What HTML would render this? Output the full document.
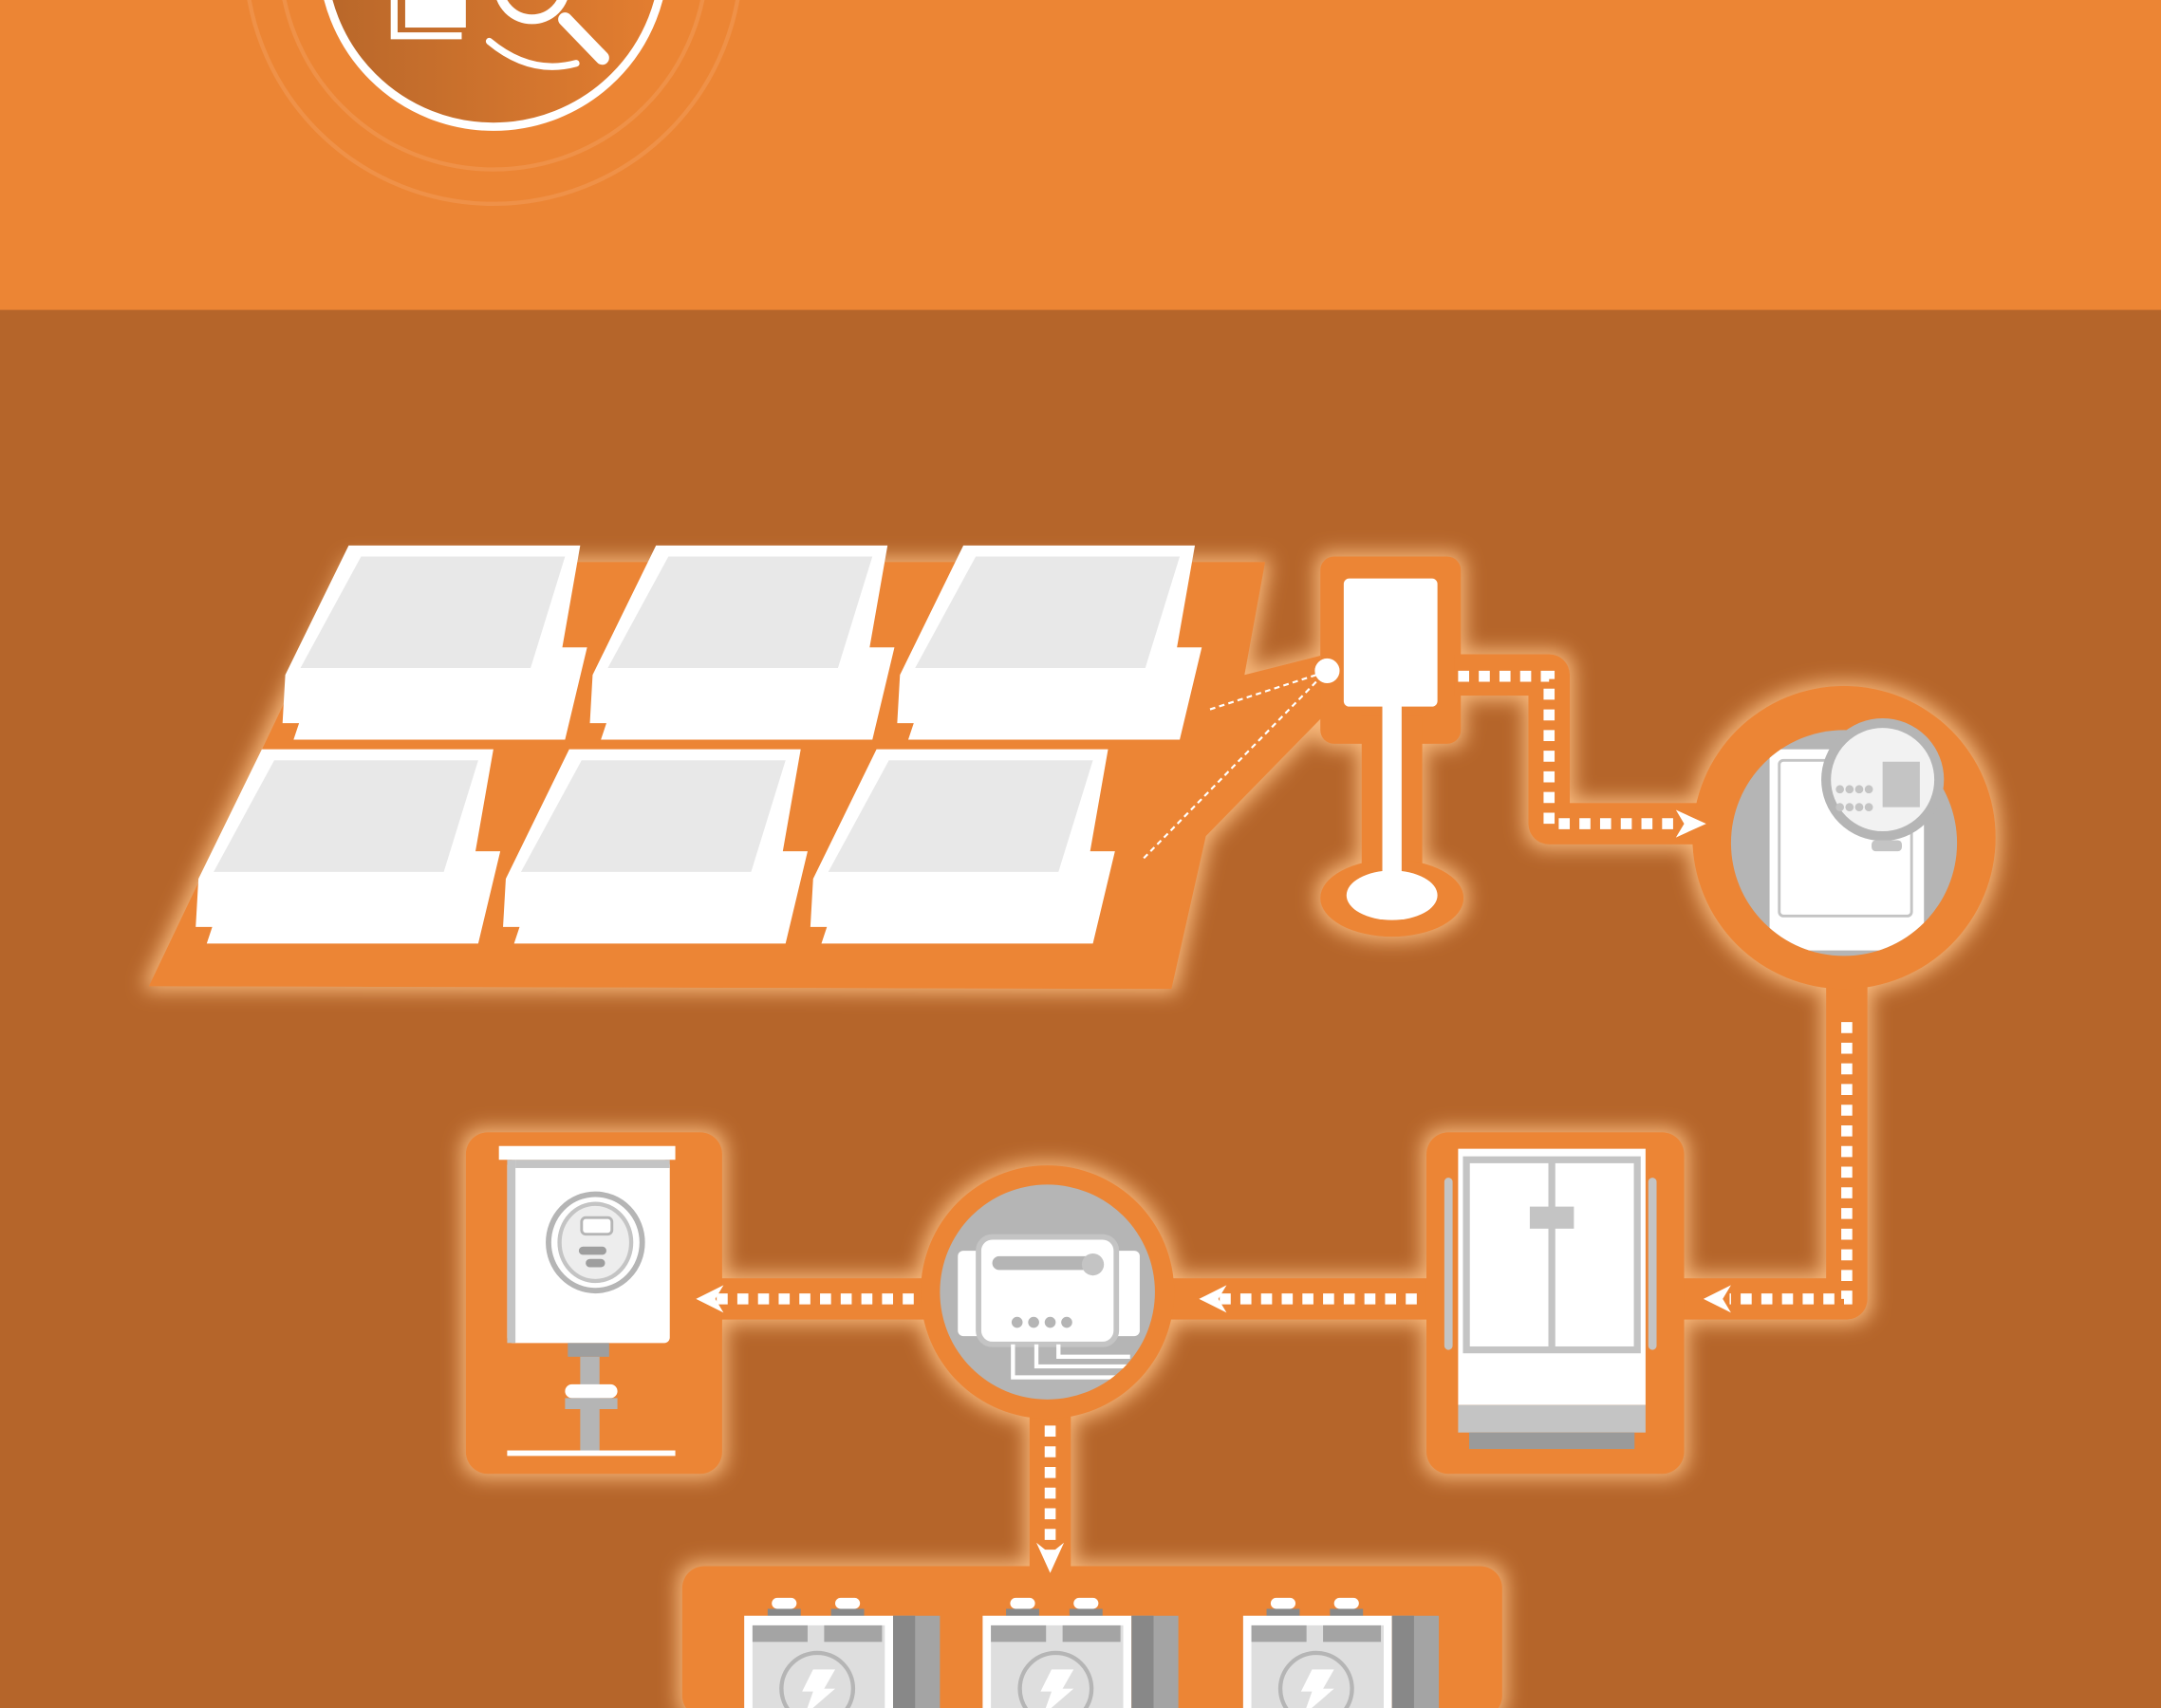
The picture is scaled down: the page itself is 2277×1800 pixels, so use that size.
<!DOCTYPE html>
<html><head><meta charset="utf-8"><style>html,body{margin:0;padding:0;background:#B5652A}svg{display:block}</style></head>
<body>
<svg width="2277" height="1800" viewBox="0 0 1568 1240" preserveAspectRatio="none" xmlns="http://www.w3.org/2000/svg">
<defs>
<filter id="g" x="-20%" y="-20%" width="140%" height="140%">
<feMorphology in="SourceAlpha" operator="dilate" radius="3" result="d"/>
<feGaussianBlur in="d" stdDeviation="7" result="b"/>
<feFlood flood-color="#F7B77A"/>
<feComposite in2="b" operator="in" result="c"/>
<feMerge><feMergeNode in="c"/><feMergeNode in="SourceGraphic"/></feMerge>
</filter>
<linearGradient id="ig" x1="0" x2="1"><stop offset="0" stop-color="#B8672A"/><stop offset="1" stop-color="#E47E30"/></linearGradient>
<clipPath id="c1"><ellipse cx="1338" cy="612" rx="82" ry="82"/></clipPath>
<clipPath id="c2"><circle cx="760" cy="938" r="78"/></clipPath>
</defs>
<rect width="1568" height="1240" fill="#B5652A"/>
<rect width="1568" height="225" fill="#EC8534"/>
<circle cx="358" cy="-32" r="180" fill="none" stroke="#EF9148" stroke-width="3"/>
<circle cx="358" cy="-32" r="155" fill="none" stroke="#EF9148" stroke-width="3"/>
<circle cx="358" cy="-32" r="124" fill="url(#ig)" stroke="#fff" stroke-width="6"/>
<path d="M286 0 V26 H335" fill="none" stroke="#fff" stroke-width="5"/>
<rect x="294" y="0" width="44" height="20" fill="#fff"/>
<circle cx="386" cy="-10" r="24" fill="none" stroke="#fff" stroke-width="7"/>
<line x1="410" y1="14" x2="437" y2="42" stroke="#fff" stroke-width="10" stroke-linecap="round"/>
<path d="M355 30 Q385 55 418 46" fill="none" stroke="#fff" stroke-width="5" stroke-linecap="round"/>

<g filter="url(#g)" fill="#EC8534">
<polygon points="255,408 918,408 903,490 958,476 960,520 875,607 850,718 108,716"/>
<rect x="958" y="404" width="102" height="136" rx="10"/>
<rect x="988" y="520" width="44" height="115"/>
<ellipse cx="1010" cy="652" rx="52" ry="28"/>
<g fill="none" stroke="#EC8534" stroke-width="30" stroke-linejoin="round">
<path d="M1055 490 H1124 V598 H1240"/>
<path d="M1340 700 V943 H1215"/>
<path d="M1040 943 H840"/>
<path d="M680 943 H515"/>
<path d="M762 1020 V1145"/>
</g>
<rect x="1035" y="822" width="187" height="248" rx="16"/>
<rect x="338" y="822" width="186" height="248" rx="16"/>
<rect x="495" y="1137" width="595" height="110" rx="16"/>
<circle cx="1338" cy="608" r="110"/>
<circle cx="760" cy="938" r="92"/>
</g>

<g id="p">
<polygon points="253,396 421,396 408,470 426,470 410,537 213,537 217,525 205,525 207,490" fill="#fff"/>
<polygon points="262,404 410,404 385,485 218,485" fill="#E8E8E8"/>
</g>
<use href="#p" x="223"/><use href="#p" x="446"/>
<use href="#p" x="-63" y="148"/><use href="#p" x="160" y="148"/><use href="#p" x="383" y="148"/>

<rect x="975" y="420" width="68" height="93" rx="4" fill="#fff"/>
<rect x="1003" y="510" width="14" height="125" fill="#fff"/>
<ellipse cx="1010" cy="650" rx="33" ry="18" fill="#fff"/>
<circle cx="963" cy="487" r="9" fill="#fff"/>
<path d="M955 490 L878 515 M955 495 L828 625" stroke="#fff" stroke-width="1.5" stroke-dasharray="4 3" fill="none"/>

<g fill="none" stroke="#fff" stroke-width="8" stroke-dasharray="8 7">
<path d="M1058 491 H1124 V598 H1220"/>
<path d="M1340 742 V943 H1255"/>
<path d="M1028 943 H880"/>
<path d="M663 943 H520"/>
<path d="M762 1035 V1128"/>
</g>
<g fill="#fff">
<polygon points="1216,588 1238,598 1216,608 1222,598"/>
<polygon points="1256,933 1236,943 1256,953 1250,943"/>
<polygon points="890,933 870,943 890,953 884,943"/>
<polygon points="525,933 505,943 525,953 519,943"/>
<polygon points="752,1120 762,1142 772,1120 762,1128"/>
</g>

<circle cx="1338" cy="612" r="82" fill="#B5B5B5"/>
<g clip-path="url(#c1)">
<rect x="1284" y="544" width="112" height="146" fill="#fff"/>
<rect x="1291" y="552" width="96" height="113" rx="3" fill="none" stroke="#C4C4C4" stroke-width="2"/>
</g>
<circle cx="1366" cy="566" r="41" fill="#F2F2F2" stroke="#B5B5B5" stroke-width="7"/>
<rect x="1366" y="553" width="27" height="33" fill="#C4C4C4"/>
<g fill="#C4C4C4"><circle cx="1335" cy="573" r="3"/><circle cx="1342" cy="573" r="3"/><circle cx="1349" cy="573" r="3"/><circle cx="1356" cy="573" r="3"/><circle cx="1335" cy="586" r="3"/><circle cx="1342" cy="586" r="3"/><circle cx="1349" cy="586" r="3"/><circle cx="1356" cy="586" r="3"/></g>
<rect x="1358" y="610" width="22" height="8" rx="3" fill="#C4C4C4"/>

<rect x="1058" y="834" width="136" height="186" fill="#fff"/>
<rect x="1064" y="842" width="124" height="138" fill="none" stroke="#C4C4C4" stroke-width="5"/>
<line x1="1126" y1="842" x2="1126" y2="980" stroke="#C4C4C4" stroke-width="5"/>
<rect x="1110" y="876" width="32" height="16" fill="#C4C4C4"/>
<rect x="1058" y="1020" width="136" height="20" fill="#C4C4C4"/>
<rect x="1066" y="1040" width="120" height="12" fill="#9A9A9A"/>
<rect x="1048" y="855" width="6" height="125" rx="3" fill="#C4C4C4"/>
<rect x="1196" y="855" width="6" height="125" rx="3" fill="#C4C4C4"/>

<circle cx="760" cy="938" r="78" fill="#B5B5B5"/>
<g clip-path="url(#c2)">
<rect x="695" y="908" width="132" height="62" rx="4" fill="#fff"/>
<rect x="710" y="898" width="100" height="78" rx="10" fill="#fff" stroke="#C4C4C4" stroke-width="4"/>
<rect x="720" y="912" width="80" height="10" rx="5" fill="#B5B5B5"/>
<circle cx="793" cy="918" r="8" fill="#C4C4C4"/>
<g fill="#B5B5B5"><circle cx="738" cy="960" r="4"/><circle cx="750" cy="960" r="4"/><circle cx="762" cy="960" r="4"/><circle cx="774" cy="960" r="4"/></g>
<path d="M735 976 V1000 H820 M752 976 V992 H820 M768 976 V985 H820" fill="none" stroke="#fff" stroke-width="3"/>
</g>

<rect x="362" y="832" width="128" height="10" fill="#fff"/>
<rect x="368" y="842" width="118" height="133" rx="4" fill="#fff"/>
<rect x="368" y="842" width="6" height="133" fill="#C4C4C4"/>
<rect x="374" y="842" width="112" height="6" fill="#C4C4C4"/>
<ellipse cx="432" cy="902" rx="34" ry="35" fill="#fff" stroke="#B5B5B5" stroke-width="4"/>
<ellipse cx="432" cy="902" rx="26" ry="28" fill="#EDEDED" stroke="#C4C4C4" stroke-width="3"/>
<rect x="422" y="884" width="22" height="12" rx="3" fill="#fff" stroke="#B5B5B5" stroke-width="2"/>
<rect x="420" y="905" width="20" height="6" rx="3" fill="#9E9E9E"/>
<rect x="425" y="914" width="14" height="6" rx="3" fill="#9E9E9E"/>
<rect x="412" y="975" width="30" height="10" fill="#9E9E9E"/>
<rect x="421" y="985" width="14" height="70" fill="#B5B5B5"/>
<rect x="410" y="1005" width="38" height="10" rx="5" fill="#fff"/>
<rect x="410" y="1015" width="38" height="8" fill="#B5B5B5"/>
<rect x="368" y="1053" width="122" height="4" fill="#fff"/>

<g id="bt">
<rect x="560" y="1160" width="18" height="8" rx="4" fill="#fff"/>
<rect x="606" y="1160" width="18" height="8" rx="4" fill="#fff"/>
<rect x="557" y="1168" width="24" height="6" fill="#888"/>
<rect x="603" y="1168" width="24" height="6" fill="#888"/>
<rect x="540" y="1173" width="108" height="70" fill="#fff"/>
<rect x="546" y="1180" width="96" height="60" fill="#DEDEDE"/>
<rect x="546" y="1180" width="40" height="12" fill="#A4A4A4"/>
<rect x="598" y="1180" width="42" height="12" fill="#A4A4A4"/>
<polygon points="648,1173 682,1173 682,1240 652,1240" fill="#A4A4A4"/>
<rect x="648" y="1173" width="16" height="67" fill="#888"/>
<circle cx="593" cy="1226" r="26" fill="none" stroke="#B5B5B5" stroke-width="3"/>
<polygon points="590,1212 606,1212 598,1226 606,1226 584,1245 590,1228 582,1228" fill="#fff"/>
</g>
<use href="#bt" x="173"/><use href="#bt" x="362"/>
</svg>
</body></html>
